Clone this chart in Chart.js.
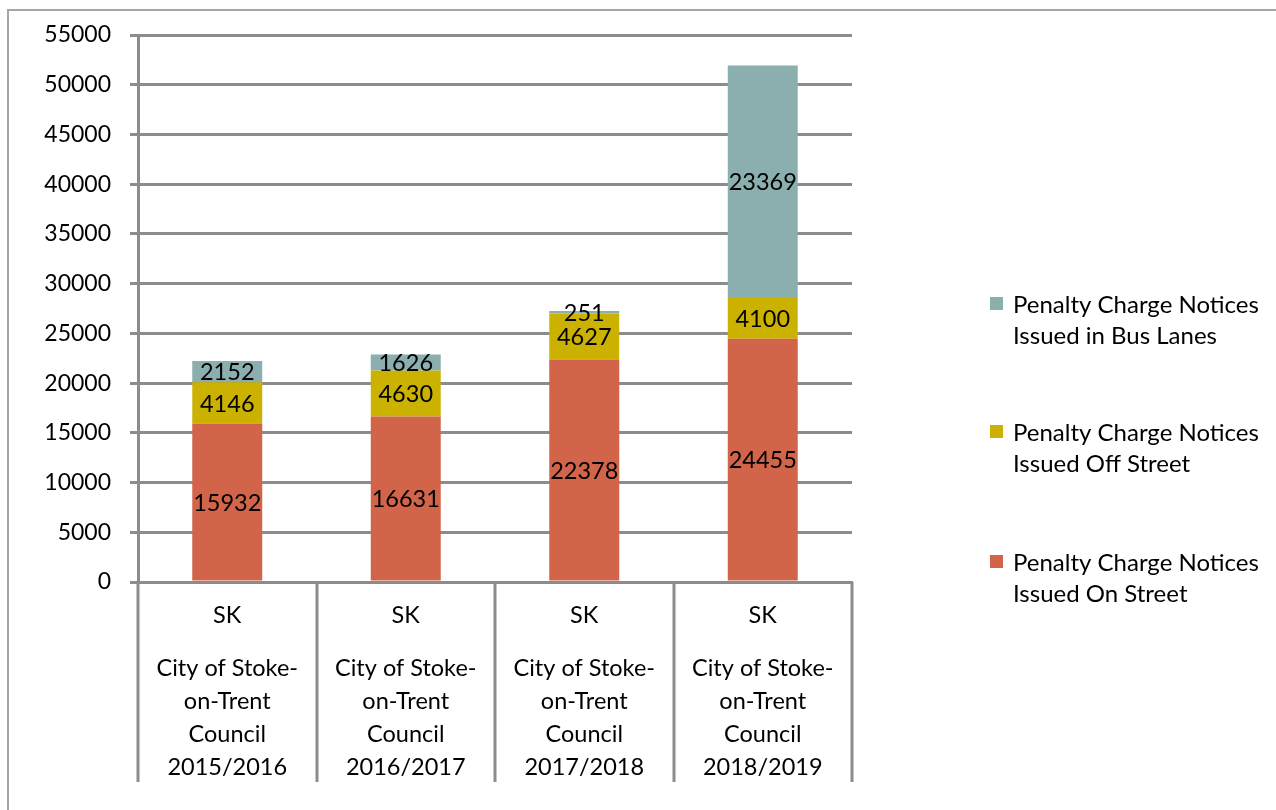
<!DOCTYPE html>
<html>
<head>
<meta charset="utf-8">
<script src="https://cdn.jsdelivr.net/npm/chart.js@4.4.1/dist/chart.umd.min.js"></script>
<style>
html,body{margin:0;padding:0;background:#fff;}
#wrap{width:1276px;height:810px;position:relative;}
</style>
</head>
<body>
<div id="wrap"><canvas id="c" width="1276" height="810"></canvas></div>
<script>
const codes = ["SK", "SK", "SK", "SK"];
const councils = ["City of Stoke-|on-Trent|Council|2015/2016", "City of Stoke-|on-Trent|Council|2016/2017", "City of Stoke-|on-Trent|Council|2017/2018", "City of Stoke-|on-Trent|Council|2018/2019"];
const onStreet = [15932, 16631, 22378, 24455];
const offStreet = [4146, 4630, 4627, 4100];
const busLanes = [2152, 1626, 251, 23369];
const seriesNames = ["Penalty Charge Notices|Issued On Street", "Penalty Charge Notices|Issued Off Street", "Penalty Charge Notices|Issued in Bus Lanes"];
const yTicks = [0, 5000, 10000, 15000, 20000, 25000, 30000, 35000, 40000, 45000, 50000, 55000];

const FONT = "Lato, 'Open Sans', sans-serif";
const GRID = "#8c8c8c";
const colors = ["#D2644A", "#CCB200", "#8BAEAE"];

const decor = {
  id: "decor",
  beforeDraw(chart) {
    const ctx = chart.ctx;
    ctx.save();
    ctx.fillStyle = "#fff";
    ctx.fillRect(0, 0, chart.width, chart.height);
    ctx.strokeStyle = "#a6a6a6";
    ctx.lineWidth = 2;
    ctx.beginPath();
    ctx.moveTo(8, 812);
    ctx.lineTo(8, 10);
    ctx.lineTo(1280, 10);
    ctx.stroke();
    ctx.restore();
  },
  afterDraw(chart) {
    const ctx = chart.ctx;
    const xs = chart.scales.x;
    const area = chart.chartArea;
    ctx.save();
    const n = codes.length;
    const step = (area.right - area.left) / n;
    ctx.strokeStyle = GRID;
    ctx.lineWidth = 3;
    for (let i = 0; i <= n; i++) {
      const x = Math.round(area.left + i * step);
      ctx.beginPath();
      ctx.moveTo(x, area.bottom);
      ctx.lineTo(x, 782);
      ctx.stroke();
    }
    ctx.fillStyle = "#000";
    ctx.textAlign = "center";
    ctx.textBaseline = "middle";
    ctx.font = "23.5px " + FONT;
    for (let i = 0; i < n; i++) {
      const cx = xs.getPixelForValue(i);
      ctx.fillText(codes[i], cx, 615);
      const lines = councils[i].split("|");
      lines.forEach((t, k) => ctx.fillText(t, cx, 668 + k * 33.3));
    }
    ctx.font = "23.5px " + FONT;
    chart.data.datasets.forEach((ds, di) => {
      const meta = chart.getDatasetMeta(di);
      meta.data.forEach((el, j) => {
        const y = (el.y + el.base) / 2;
        ctx.fillText(String(ds.data[j]), el.x, y + 1);
      });
    });
    ctx.textAlign = "left";
    ctx.font = "24px " + FONT;
    const legendTops = [563, 433, 305];
    seriesNames.forEach((name, i) => {
      const y0 = legendTops[i];
      ctx.fillStyle = colors[i];
      ctx.fillRect(990, y0 - 8, 13, 13);
      ctx.fillStyle = "#000";
      const lines = name.split("|");
      lines.forEach((t, k) => ctx.fillText(t, 1013, y0 + k * 31.5));
    });
    ctx.restore();
  }
};

new Chart(document.getElementById("c"), {
  type: "bar",
  data: {
    labels: codes,
    datasets: [
      { label: "On Street", data: onStreet, backgroundColor: colors[0] },
      { label: "Off Street", data: offStreet, backgroundColor: colors[1] },
      { label: "Bus Lanes", data: busLanes, backgroundColor: colors[2] }
    ]
  },
  options: {
    responsive: false,
    animation: false,
    devicePixelRatio: 1,
    layout: { padding: { top: 35, right: 424, left: 0, bottom: 0 } },
    plugins: { legend: { display: false }, tooltip: { enabled: false } },
    datasets: { bar: { categoryPercentage: 1, barPercentage: 0.392 } },
    scales: {
      x: {
        stacked: true,
        grid: { display: false },
        border: { display: true, color: GRID, width: 3 },
        ticks: { display: false },
        afterFit(s) { s.height = 228; }
      },
      y: {
        stacked: true,
        min: 0,
        max: 55000,
        afterBuildTicks(s) { s.ticks = yTicks.map(v => ({ value: v })); },
        grid: { color: GRID, lineWidth: 3, tickLength: 8 },
        border: { display: true, color: GRID, width: 3 },
        ticks: { color: "#000", font: { family: FONT, size: 23 }, padding: 19, callback: v => String(v) },
        afterFit(s) { s.width = 138; }
      }
    }
  },
  plugins: [decor]
});
</script>
</body>
</html>
